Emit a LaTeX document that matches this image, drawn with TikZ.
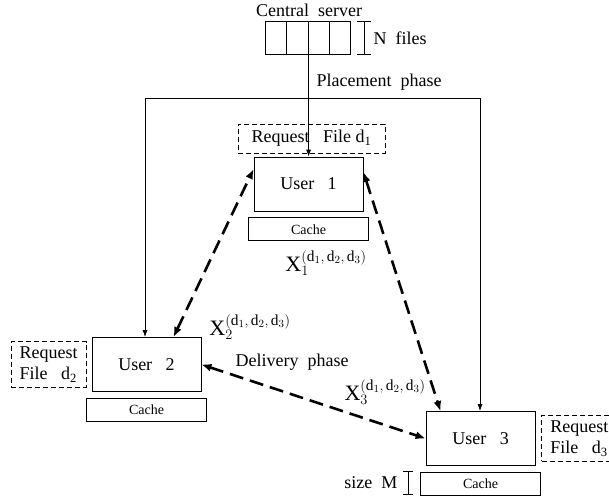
\documentclass[tikz,border=0pt]{standalone}
\usepackage{fontspec}
\setmainfont{Liberation Serif}
\usetikzlibrary{positioning,arrows.meta}
\tikzstyle{user box}=[draw, line width=0.8pt, minimum width=109pt, minimum height=54pt]
\tikzstyle{cache box}=[draw, line width=0.8pt, minimum width=120pt, minimum height=23pt,
  font=\fontsize{14}{16}\selectfont]
% dashed boxes holding the requests
\tikzstyle{request box}=[draw, dash pattern=on 5pt off 3pt, line width=0.8pt,
  align=left, inner sep=5pt]
\tikzstyle{file cell}=[draw, line width=0.9pt, minimum width=21.25pt, minimum height=33pt]
\tikzstyle{link}=[line width=0.8pt, -{Latex[length=7pt,width=5pt]}]
% thick dashed two-way arrows of the delivery phase
\tikzstyle{delivery}=[line width=2.6pt, dash pattern=on 14pt off 7pt,
  {Latex[length=10pt,width=8pt]}-{Latex[length=10pt,width=8pt]}]
\tikzstyle{coded}=[font=\fontsize{22}{26}\selectfont]

\begin{document}
\begin{tikzpicture}[x=1pt, y=-1pt, font=\fontsize{18}{21}\selectfont]
  \useasboundingbox (0,0) rectangle (609,500);

  % central server and its files
  \node (server) at (309,10) {Central\ \ server};
  \foreach \i in {1,...,4}
    \node[file cell] (f\i) at (255+21.25*\i,37.5) {};
  \coordinate (ntop) at (364,21);
  \coordinate (nbot) at (364,54);
  \draw[line width=0.8pt] ([xshift=-7pt]ntop) -- ([xshift=7pt]ntop)
    (ntop) -- (nbot) ([xshift=-7pt]nbot) -- ([xshift=7pt]nbot);
  \node[anchor=west] (nfiles) at (370,38) {N\ \ files};

  % users
  \node[user box] (user1) at (308.5,184) {User~~~1};
  \node[user box] (user2) at (146.5,364.5) {User~~~2};
  \node[user box] (user3) at (480.5,438.5) {User~~~3};
  \node[cache box, below=6pt of user1] (cache1) {Cache};
  \node[cache box, below=6pt of user2] (cache2) {Cache};
  \node[cache box, below=6pt of user3] (cache3) {Cache};
  \node[request box, minimum width=147pt, minimum height=29pt] (req1) at (311.5,138.5)
    {Request~~~File~d\textsubscript{1}};
  \node[request box, minimum width=75pt, left=5pt of user2] (req2)
    {Request\\File~~~d\textsubscript{2}};
  \node[request box, minimum width=75pt, right=6pt of user3] (req3)
    {Request\\File~~~d\textsubscript{3}};

  % placement phase
  \node (placement) at (379,82) {Placement\ \ phase};
  \coordinate (pl) at (145,98);
  \coordinate (pr) at (480,98);
  \draw[line width=0.8pt] (pl) -- (pr);
  \draw[link] (f2.south east) -- (f2.south east |- user1.north);
  \draw[link] (pl) -- (pl |- user2.north);
  \draw[link] (pr) -- (pr |- user3.north);

  % delivery phase
  \draw[delivery] ([xshift=27pt]user2.north) -- ([yshift=15pt]user1.west);
  \draw[delivery] ([yshift=12pt]user1.east) -- ([xshift=-40pt]user3.north);
  \draw[delivery] (user2.east) -- (user3.west);
  \node (delivery) at (292,362) {Delivery\ \ phase};
  \node[coded] (x1) at (326,263) {$\mathrm{X}_1^{(\mathrm{d}_1,\,\mathrm{d}_2,\,\mathrm{d}_3)}$};
  \node[coded] (x2) at (250,327) {$\mathrm{X}_2^{(\mathrm{d}_1,\,\mathrm{d}_2,\,\mathrm{d}_3)}$};
  \node[coded] (x3) at (385,392) {$\mathrm{X}_3^{(\mathrm{d}_1,\,\mathrm{d}_2,\,\mathrm{d}_3)}$};

  % cache size
  \coordinate (mtop) at (408,471);
  \coordinate (mbot) at (408,494);
  \draw[line width=0.8pt] ([xshift=-5pt]mtop) -- ([xshift=5pt]mtop)
    (mtop) -- (mbot) ([xshift=-5pt]mbot) -- ([xshift=5pt]mbot);
  \node[anchor=east] (sizem) at (401,483) {size\ \ M};
\end{tikzpicture}
\end{document}
